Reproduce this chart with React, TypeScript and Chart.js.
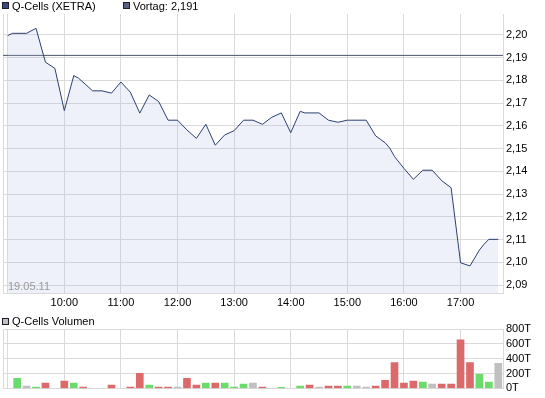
import React, { useEffect, useRef } from 'react';
import { Chart, registerables } from 'chart.js';

Chart.register(...registerables);

const FONT = "'Liberation Sans', Arial, sans-serif";

// minutes after 09:00
const priceTimes = [0, 5, 20, 30, 40, 50, 60, 70, 75, 90, 100, 110, 120, 130, 140, 150, 160, 170, 180, 190, 200, 210, 220, 230, 240, 250, 260, 270, 280, 290, 300, 310, 315, 330, 340, 350, 360, 380, 390, 395, 400, 405, 410, 420, 430, 440, 450, 460, 470, 480, 490, 500, 505, 510, 520];
const priceValues = [2.1997, 2.2007, 2.2007, 2.2029, 2.188, 2.1853, 2.1667, 2.1821, 2.181, 2.1754, 2.1754, 2.1744, 2.1793, 2.1748, 2.1656, 2.1736, 2.1707, 2.1625, 2.1625, 2.1582, 2.1545, 2.1607, 2.1515, 2.156, 2.1579, 2.1625, 2.1625, 2.1607, 2.1638, 2.1657, 2.157, 2.1664, 2.1657, 2.1657, 2.1625, 2.1616, 2.1625, 2.1625, 2.1556, 2.1541, 2.1526, 2.1502, 2.1465, 2.1413, 2.1365, 2.1405, 2.1405, 2.1359, 2.1328, 2.0998, 2.0984, 2.1054, 2.108, 2.1101, 2.1101];
const prevClose = 2.191;

const hourTicks = [-5, 0, 60, 120, 180, 240, 300, 360, 420, 480];
const hourLabels = ['', '', '10:00', '11:00', '12:00', '13:00', '14:00', '15:00', '16:00', '17:00'];
const priceTicks = [2.09, 2.10, 2.11, 2.12, 2.13, 2.14, 2.15, 2.16, 2.17, 2.18, 2.19, 2.20];

const volTimes = [10, 20, 30, 40, 60, 70, 80, 110, 130, 140, 150, 160, 170, 180, 190, 200, 210, 220, 230, 240, 250, 260, 270, 290, 310, 320, 330, 340, 350, 360, 370, 380, 390, 400, 410, 420, 430, 440, 450, 460, 470, 480, 490, 500, 510, 520];
const volValues = [137, 31, 18, 71, 97, 71, 18, 44, 18, 203, 44, 18, 18, 18, 137, 44, 71, 71, 71, 18, 57, 71, 18, 15, 31, 44, 18, 31, 31, 31, 31, 18, 31, 110, 349, 71, 97, 84, 57, 57, 57, 654, 349, 190, 84, 336];
const volDir = ['g', 'n', 'g', 'r', 'r', 'g', 'r', 'r', 'r', 'r', 'g', 'r', 'r', 'n', 'r', 'r', 'g', 'r', 'g', 'g', 'g', 'n', 'r', 'g', 'g', 'r', 'n', 'r', 'r', 'g', 'n', 'n', 'r', 'r', 'r', 'r', 'r', 'g', 'n', 'r', 'r', 'r', 'r', 'g', 'g', 'n'];
const volTicks = [0, 200, 400, 600, 800];

const dateLabel = '19.05.11';
const seriesLabel = 'Q-Cells (XETRA)';
const prevLabel = 'Vortag: 2,191';
const volLabel = 'Q-Cells Volumen';

const GRID = '#dadada';
const dirColor: Record<string, string> = { g: '#6bdc6b', r: '#dc6a6a', n: '#c0c0c0' };

export default function App() {
  const mainRef = useRef<HTMLCanvasElement>(null);
  const volRef = useRef<HTMLCanvasElement>(null);

  useEffect(() => {
    const datePlugin = {
      id: 'dateStamp',
      afterDatasetsDraw(chart: any) {
        const { ctx, chartArea } = chart;
        ctx.save();
        ctx.font = `11px ${FONT}`;
        ctx.fillStyle = '#9a9a9a';
        ctx.textBaseline = 'alphabetic';
        ctx.fillText(dateLabel, chartArea.left + 5, chartArea.bottom - 3);
        ctx.restore();
      },
    };

    const xScale = (h: number, showLabels: boolean) => ({
      type: 'linear' as const,
      min: -5,
      max: 525,
      offset: false,
      grid: { color: GRID, drawTicks: false, offset: false },
      border: { display: true, color: GRID },
      ticks: {
        autoSkip: false,
        maxRotation: 0,
        padding: 3,
        color: '#000',
        font: { family: FONT, size: 11 },
        callback: (v: any) => {
          if (!showLabels) return '';
          const i = hourTicks.indexOf(Number(v));
          return i >= 0 ? hourLabels[i] : '';
        },
      },
      afterBuildTicks: (s: any) => {
        s.ticks = hourTicks.map((v) => ({ value: v }));
      },
      afterFit: (s: any) => {
        s.height = h;
      },
    });

    const main = new Chart(mainRef.current!, {
      type: 'line',
      data: {
        datasets: [
          {
            label: seriesLabel,
            data: priceTimes.map((t, i) => ({ x: t, y: priceValues[i] })),
            borderColor: '#2c3f6e',
            borderWidth: 1,
            pointRadius: 0,
            tension: 0,
            fill: 'start',
            backgroundColor: 'rgba(170,185,230,0.2)',
          },
          {
            label: prevLabel,
            data: [
              { x: -5, y: prevClose },
              { x: 525, y: prevClose },
            ],
            borderColor: '#4c5368',
            borderWidth: 1,
            pointRadius: 0,
            fill: false,
          },
        ],
      },
      options: {
        responsive: false,
        animation: false,
        devicePixelRatio: 1,
        layout: { padding: { left: 2, top: 14, right: 0, bottom: 0 } },
        plugins: { legend: { display: false }, tooltip: { enabled: false } },
        scales: {
          x: xScale(17, true) as any,
          y: {
            type: 'linear',
            position: 'right',
            min: 2.0865,
            max: 2.2092,
            grid: { color: GRID, drawTicks: false },
            border: { display: true, color: GRID },
            ticks: {
              padding: 3,
              color: '#000',
              font: { family: FONT, size: 11 },
              callback: (v: any) => Number(v).toFixed(2).replace('.', ','),
            },
            afterBuildTicks: (s: any) => {
              s.ticks = priceTicks.map((v) => ({ value: v }));
            },
            afterFit: (s: any) => {
              s.width = 42;
            },
          } as any,
        },
      },
      plugins: [datePlugin],
    });

    const vol = new Chart(volRef.current!, {
      type: 'bar',
      data: {
        datasets: [
          {
            label: volLabel,
            data: volTimes.map((t, i) => ({ x: t, y: volValues[i] })),
            backgroundColor: volDir.map((d) => dirColor[d]),
            barThickness: 7,
            borderWidth: 0,
          },
        ],
      },
      options: {
        responsive: false,
        animation: false,
        devicePixelRatio: 1,
        layout: { padding: { left: 2, top: 19, right: 0, bottom: 0 } },
        plugins: { legend: { display: false }, tooltip: { enabled: false } },
        scales: {
          x: xScale(9, false) as any,
          y: {
            type: 'linear',
            position: 'right',
            min: 0,
            max: 800,
            grid: { color: GRID, drawTicks: false },
            border: { display: true, color: GRID },
            ticks: {
              padding: 3,
              color: '#000',
              font: { family: FONT, size: 11 },
              callback: (v: any) => `${v}T`,
            },
            afterBuildTicks: (s: any) => {
              s.ticks = volTicks.map((v) => ({ value: v }));
            },
            afterFit: (s: any) => {
              s.width = 42;
            },
          } as any,
        },
      },
    });

    return () => {
      main.destroy();
      vol.destroy();
    };
  }, []);

  const textStyle: React.CSSProperties = {
    position: 'absolute',
    font: `11px ${FONT}`,
    lineHeight: '13px',
    color: '#000',
    whiteSpace: 'nowrap',
  };
  const box = (left: number, top: number, bg: string): React.CSSProperties => ({
    position: 'absolute',
    left,
    top,
    width: 5,
    height: 5,
    border: '1px solid #1e1e2a',
    background: bg,
  });

  return (
    <div style={{ position: 'fixed', left: 0, top: 0, width: 545, height: 398, background: '#fff', overflow: 'hidden' }}>
      <canvas ref={mainRef} width={545} height={310} style={{ position: 'absolute', left: 0, top: 0, width: 545, height: 310 }} />
      <canvas ref={volRef} width={545} height={88} style={{ position: 'absolute', left: 0, top: 310, width: 545, height: 88 }} />
      <div style={box(2, 2, '#3a4b78')} />
      <div style={{ ...textStyle, left: 12, top: 0 }}>{seriesLabel}</div>
      <div style={box(123, 2, '#5a6180')} />
      <div style={{ ...textStyle, left: 133, top: 0 }}>{prevLabel}</div>
      <div style={box(2, 318, '#c0c0c0')} />
      <div style={{ ...textStyle, left: 12, top: 315 }}>{volLabel}</div>
    </div>
  );
}
